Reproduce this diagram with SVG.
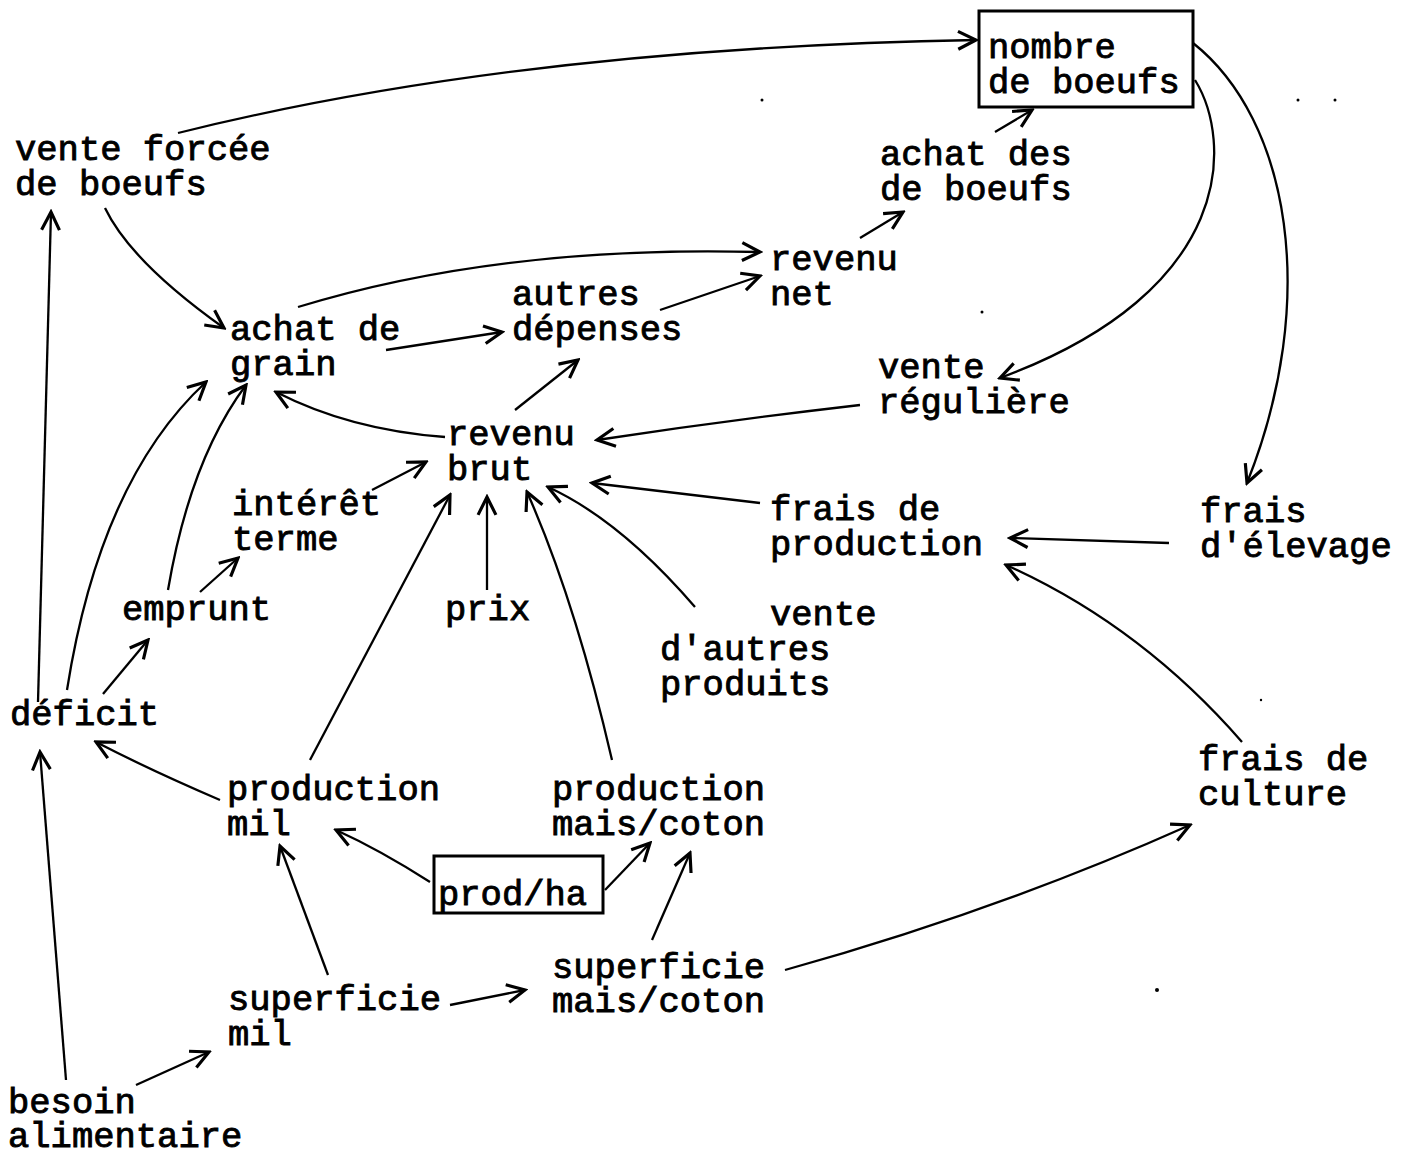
<svg xmlns="http://www.w3.org/2000/svg" width="1403" height="1156" viewBox="0 0 1403 1156">
  <defs>
    <marker id="arr" markerUnits="userSpaceOnUse" markerWidth="22" markerHeight="22" refX="14" refY="8" orient="auto" viewBox="0 0 16 16">
      <path d="M1,1.5 L14,8 L1,14.5" fill="none" stroke="#000" stroke-width="2.3"/>
    </marker>
    <style>
      text { font-family: "Liberation Mono", "DejaVu Sans Mono", monospace; font-size: 35.5px; fill: #000; stroke: #000; stroke-width: 0.9px; }
      .box { fill: none; stroke: #000; stroke-width: 3; }
      .edge { fill: none; stroke: #000; stroke-width: 2.3; marker-end: url(#arr); }
      .speck { fill: #000; }
    </style>
  </defs>

  <rect width="1403" height="1156" fill="#fff"/>

  <!-- connectors -->
  <g id="connectors">
    <path class="edge" d="M178,133 Q520,48 976,40"/>
    <path class="edge" d="M105,208 Q131,262 224,328"/>
    <path class="edge" d="M38,702 L51,212"/>
    <path class="edge" d="M67,690 Q100,480 206,382"/>
    <path class="edge" d="M168,590 Q190,460 246,385"/>
    <path class="edge" d="M200,592 L238,558"/>
    <path class="edge" d="M103,694 L148,640"/>
    <path class="edge" d="M220,800 Q150,770 96,742"/>
    <path class="edge" d="M66,1080 L40,752"/>
    <path class="edge" d="M136,1085 L209,1052"/>
    <path class="edge" d="M328,975 L280,846"/>
    <path class="edge" d="M450,1005 L525,990"/>
    <path class="edge" d="M652,940 L690,853"/>
    <path class="edge" d="M430,882 Q380,850 336,830"/>
    <path class="edge" d="M605,890 L650,843"/>
    <path class="edge" d="M785,970 Q1000,910 1190,825"/>
    <path class="edge" d="M1242,742 Q1140,625 1006,565"/>
    <path class="edge" d="M1169,543 L1010,538"/>
    <path class="edge" d="M1193,43 C1290,120 1320,300 1247,483"/>
    <path class="edge" d="M1195,80 C1232,140 1238,290 1000,378"/>
    <path class="edge" d="M995,132 L1032,110"/>
    <path class="edge" d="M860,238 L903,212"/>
    <path class="edge" d="M298,307 Q500,245 760,252"/>
    <path class="edge" d="M386,350 L502,332"/>
    <path class="edge" d="M660,310 L760,276"/>
    <path class="edge" d="M515,410 L578,360"/>
    <path class="edge" d="M445,437 Q350,430 276,392"/>
    <path class="edge" d="M860,405 Q730,420 597,440"/>
    <path class="edge" d="M372,490 L426,462"/>
    <path class="edge" d="M310,760 L450,495"/>
    <path class="edge" d="M487,590 L487,497"/>
    <path class="edge" d="M612,760 Q575,600 527,492"/>
    <path class="edge" d="M695,607 Q620,520 548,487"/>
    <path class="edge" d="M760,503 L592,483"/>
  </g>

  <!-- nodes -->
  <g id="nombre-boeufs">
    <rect class="box" x="979" y="11" width="214" height="96"/>
    <text x="988" y="58">nombre<tspan x="988" dy="35">de boeufs</tspan></text>
  </g>
  <g id="vente-forcee">
    <text x="15" y="160">vente forcée<tspan x="15" dy="35">de boeufs</tspan></text>
  </g>
  <g id="achat-boeufs">
    <text x="880" y="165">achat des<tspan x="880" dy="35">de boeufs</tspan></text>
  </g>
  <g id="revenu-net">
    <text x="770" y="270">revenu<tspan x="770" dy="35">net</tspan></text>
  </g>
  <g id="autres-depenses">
    <text x="512" y="305">autres<tspan x="512" dy="35">dépenses</tspan></text>
  </g>
  <g id="achat-grain">
    <text x="230" y="340">achat de<tspan x="230" dy="35">grain</tspan></text>
  </g>
  <g id="vente-reguliere">
    <text x="878" y="378">vente<tspan x="878" dy="35">régulière</tspan></text>
  </g>
  <g id="revenu-brut">
    <text x="447" y="445">revenu<tspan x="447" dy="35">brut</tspan></text>
  </g>
  <g id="interet-terme">
    <text x="232" y="515">intérêt<tspan x="232" dy="35">terme</tspan></text>
  </g>
  <g id="frais-production">
    <text x="770" y="520">frais de<tspan x="770" dy="35">production</tspan></text>
  </g>
  <g id="frais-elevage">
    <text x="1200" y="522">frais<tspan x="1200" dy="35">d'élevage</tspan></text>
  </g>
  <g id="emprunt">
    <text x="122" y="620">emprunt</text>
  </g>
  <g id="prix">
    <text x="445" y="620">prix</text>
  </g>
  <g id="vente-autres">
    <text x="770" y="625">vente<tspan x="660" dy="35">d'autres</tspan><tspan x="660" dy="35">produits</tspan></text>
  </g>
  <g id="deficit">
    <text x="10" y="725">déficit</text>
  </g>
  <g id="frais-culture">
    <text x="1198" y="770">frais de<tspan x="1198" dy="35">culture</tspan></text>
  </g>
  <g id="production-mil">
    <text x="227" y="800">production<tspan x="227" dy="35">mil</tspan></text>
  </g>
  <g id="production-mais">
    <text x="552" y="800">production<tspan x="552" dy="35">mais/coton</tspan></text>
  </g>
  <g id="prod-ha">
    <rect class="box" x="434" y="856" width="169" height="57"/>
    <text x="438" y="905">prod/ha</text>
  </g>
  <g id="superficie-mais">
    <text x="552" y="978">superficie<tspan x="552" dy="34">mais/coton</tspan></text>
  </g>
  <g id="superficie-mil">
    <text x="228" y="1010">superficie<tspan x="228" dy="35">mil</tspan></text>
  </g>
  <g id="besoin-alimentaire">
    <text x="8" y="1113">besoin<tspan x="8" dy="34">alimentaire</tspan></text>
  </g>

  <!-- stray specks of the typed sheet -->
  <circle class="speck" cx="762" cy="100" r="1.5"/>
  <circle class="speck" cx="1298" cy="100" r="1.5"/>
  <circle class="speck" cx="1335" cy="100" r="1.5"/>
  <circle class="speck" cx="982" cy="312" r="1.5"/>
  <circle class="speck" cx="1157" cy="990" r="2"/>
  <circle class="speck" cx="1261" cy="700" r="1.2"/>
</svg>
